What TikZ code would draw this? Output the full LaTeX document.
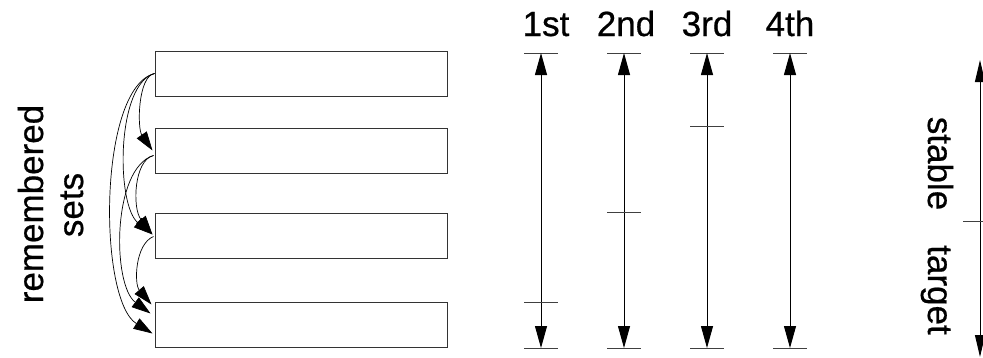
\documentclass[tikz,border=0pt]{standalone}
\usepackage{fontspec}
\setmainfont{Liberation Sans}
\newfontfamily\lblfont{Liberation Sans}[FakeBold=0.6]
\usetikzlibrary{arrows.meta,calc}
\begin{document}
\begin{tikzpicture}[x=1pt,y=-1pt,
  box/.style={draw=black!80,line width=1pt,minimum width=292pt,minimum height=45pt,inner sep=0pt},
  link/.style={line width=0.7pt,-{Triangle[length=19pt,width=12pt]}},
  span/.style={line width=1pt,{Triangle[length=22pt,width=12pt]}-{Triangle[length=22pt,width=12pt]}},
  tick/.style={line width=1pt,black!75},
  lbl/.style={font=\lblfont\fontsize{35}{40}\selectfont,inner sep=0pt}]
\useasboundingbox (0,0) rectangle (983,357);

% the four regions
\node[box] (b1) at (301,73.5) {};
\node[box] (b2) at (301,150.5) {};
\node[box] (b3) at (301,235.5) {};
\node[box] (b4) at (301,324.5) {};

% remembered-set links between regions
\draw[link] (b1.west) .. controls (138,76) and (137,128) .. ($(b2.west)+(-2,0)$);
\draw[link] (b1.west) .. controls (116,84) and (116,205) .. ($(b3.west)+(-2,-1)$);
\draw[link] (b1.west) .. controls (98,88) and (98,300) .. ($(b4.west)+(-2,9)$);
\draw[link] ($(b2.west)+(-1,5)$) .. controls (134,160) and (132,208) .. ($(b3.west)+(-2,-1)$);
\draw[link] ($(b2.west)+(-1,5)$) .. controls (112,168) and (112,285) .. ($(b4.north west)+(-4,12)$);
\draw[link] ($(b3.west)+(-1,1)$) .. controls (135,244) and (134,284) .. ($(b4.north west)+(-3,3)$);

\node[lbl,rotate=90,anchor=base] (rem) at (43,204) {remembered};
\node[lbl,rotate=90,anchor=base] (sets) at (83,205) {sets};

% collection spans
\node[lbl,anchor=base] (c1) at (546,36) {1st};
\node[lbl,anchor=base] (c2) at (626,36) {2nd};
\node[lbl,anchor=base] (c3) at (707,36) {3rd};
\node[lbl,anchor=base] (c4) at (790,36) {4th};

\foreach \x/\m in {541/302,624/212,707/126,790/0}{
  \coordinate (top) at (\x,53);
  \coordinate (bot) at (\x,348);
  \draw[tick] ($(top)+(-17,0)$) -- ($(top)+(17,0)$);
  \draw[tick] ($(bot)+(-17,0)$) -- ($(bot)+(17,0)$);
  \draw[span] (top) -- (bot);
  \ifnum\m>0
    \draw[tick] (\x-17,\m) -- (\x+17,\m);
  \fi
}

% stable / target
\coordinate (st) at (980,60);
\coordinate (sb) at (980,357);
\draw[line width=1pt,{Triangle[length=22pt,width=10pt]}-{Triangle[length=22pt,width=10pt]}] (st) -- (sb);
\draw[tick] (963,221) -- (990,221);
\node[lbl,rotate=-90,anchor=base] (stable) at (928,163.5) {stable};
\node[lbl,rotate=-90,anchor=base] (target) at (928,290) {target};
\end{tikzpicture}
\end{document}
